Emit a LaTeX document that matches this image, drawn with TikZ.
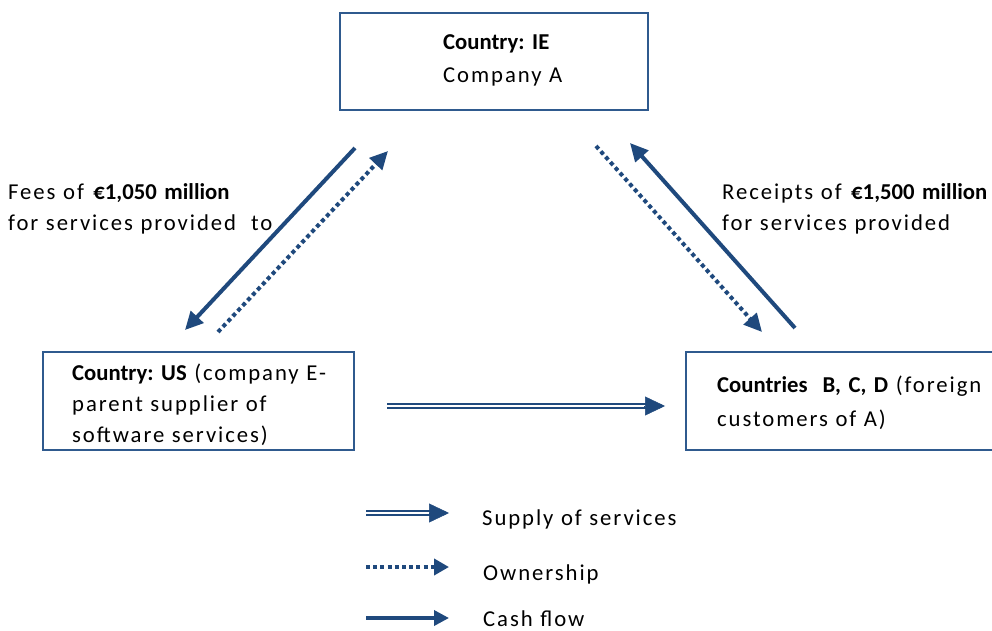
\documentclass[tikz,border=0pt]{standalone}
\usepackage{fontspec}
\setmainfont{Carlito}
\newfontfamily\spaced[LetterSpace=8.5]{Carlito}
\usetikzlibrary{arrows.meta}
\definecolor{arr}{HTML}{1F497D}
\definecolor{bx}{HTML}{2F5A8E}
\frenchspacing
\tikzset{
  box/.style={draw=bx, line width=2pt, inner sep=0pt},
  txt/.style={anchor=base west, inner sep=0pt, text width=400pt, align=left,
              font=\fontsize{22.7}{31}\selectfont},
  cash/.style={draw=arr, line width=4pt, -{Triangle[length=18pt,width=17pt]}},
  own/.style={draw=arr, line width=4pt, dash pattern=on 4pt off 3.2pt, -{Triangle[length=18pt,width=17pt]}},
  supplyline/.style={draw=arr, line width=1.8pt, double=white, double distance=1.8pt},
  supplytip/.style={draw=arr, line width=0.5pt, -{Triangle[length=20pt,width=19pt]}},
}
\begin{document}
\begin{tikzpicture}[x=1pt,y=-1pt]
\clip (0,0) rectangle (992,631);
\fill[white] (0,0) rectangle (992,631);
% boxes
\node[box, minimum width=308pt, minimum height=97pt] (ie) at (494,61.5) {};
\node[box, minimum width=311pt, minimum height=98pt] (us) at (198.5,401) {};
\node[box, minimum width=330pt, minimum height=98pt] (bcd) at (851,401) {};
% box texts
\node[txt, font=\fontsize{22.7}{33}\selectfont] (ietxt) at (443,50) {\textbf{Country: IE}\\{\spaced Company A}};
\node[txt] (ustxt) at (72,380) {\textbf{Country: US} {\spaced (company E-}\\{\spaced parent supplier of}\\{\spaced software services)}};
\node[txt, font=\fontsize{22.7}{34}\selectfont] (bcdtxt) at (717,392) {\textbf{Countries\ \ B, C, D} {\spaced (foreign}\\{\spaced customers of A)}};
% side labels
\node[txt, font=\fontsize{22.7}{30}\selectfont] (fees) at (8,200) {{\spaced Fees of} \textbf{€1,050 million}\\{\spaced for services provided\ \ to}};
\node[txt, font=\fontsize{22.7}{30}\selectfont] (rcpt) at (722,200) {{\spaced Receipts of} \textbf{€1,500 million}\\{\spaced for services provided}};
% diagonal arrows
\coordinate (l1s) at (355,148); \coordinate (l1e) at (185,330);
\coordinate (l2s) at (218,332); \coordinate (l2e) at (388,151);
\coordinate (r1s) at (596,146); \coordinate (r1e) at (762,332);
\coordinate (r2s) at (795,328); \coordinate (r2e) at (630,143);
\draw[cash] (l1s) -- (l1e);
\draw[own] (l2s) -- (l2e);
\draw[own] (r1s) -- (r1e);
\draw[cash] (r2s) -- (r2e);
% supply arrow
\coordinate (ss) at ([xshift=32pt,yshift=-5pt]us.east);
\coordinate (se) at ([xshift=-20pt,yshift=-5pt]bcd.west);
\draw[supplyline] (ss) -- ([xshift=-18pt]se);
\draw[supplytip] ([xshift=-21pt]se) -- (se);
% legend
\coordinate (g1s) at (366,513); \coordinate (g1e) at (449,513);
\coordinate (g2s) at (366,567); \coordinate (g2e) at (449,567);
\coordinate (g3s) at (366,618); \coordinate (g3e) at (449,618);
\draw[supplyline] (g1s) -- ([xshift=-17pt]g1e);
\draw[supplytip] ([xshift=-20pt]g1e) -- (g1e);
\draw[own, -{Triangle[length=15pt,width=16pt]}] (g2s) -- (g2e);
\draw[cash, line width=3.5pt, -{Triangle[length=15pt,width=15pt]}] (g3s) -- (g3e);
\node[txt] (lg1) at (482,525) {\spaced Supply of services};
\node[txt] (lg2) at (483,580) {\spaced Ownership};
\node[txt] (lg3) at (483,626.5) {\spaced Cash flow};
\end{tikzpicture}
\end{document}
